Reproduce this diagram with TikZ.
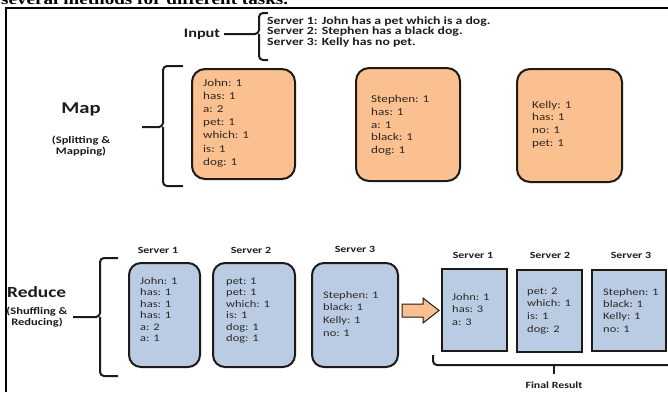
\documentclass[tikz,border=0pt]{standalone}
\usepackage{fontspec}
\setmainfont{Carlito}[FakeStretch=1.25]
\newfontfamily\hdrfont{Liberation Serif}[FakeStretch=1.25]
\definecolor{peach}{RGB}{250,192,144}
\definecolor{lblue}{RGB}{185,204,228}
\definecolor{edgec}{RGB}{30,26,22}
\definecolor{txtc}{RGB}{45,40,36}
\definecolor{lblc}{RGB}{30,28,26}
\newcommand\txtlines[6]{%
  \foreach \t [count=\i] in {#6} \node[#5] (#1-\i) at ({#2},{#3+(\i-1)*#4+3}) {\t};}
\tikzset{
  outl/.style={draw=edgec, line width=2pt},
  mapbox/.style={outl, fill=peach, rounded corners=13pt},
  redbox/.style={outl, fill=lblue, rounded corners=12pt},
  finbox/.style={outl, fill=lblue},
  brace/.style={draw=edgec, line width=2pt, rounded corners=4pt},
  mtxt/.style={font=\fontsize{10.5}{12}\selectfont, anchor=base west, inner sep=0pt, text=txtc},
  rtxt/.style={font=\fontsize{10}{11}\selectfont, anchor=base west, inner sep=0pt, text=txtc},
  srv/.style={font=\bfseries\fontsize{9.5}{11}\selectfont, inner sep=0pt, text=lblc},
  big/.style={font=\bfseries\fontsize{16.5}{18}\selectfont, inner sep=0pt, text=lblc},
  sub/.style={font=\bfseries\fontsize{10}{11}\selectfont, inner sep=0pt, text=lblc, align=center},
  intxt/.style={font=\bfseries\fontsize{11}{12}\selectfont, anchor=base west, inner sep=0pt, text=lblc},
}
\begin{document}
\begin{tikzpicture}[x=1pt, y=-1pt]
\useasboundingbox (0,0) rectangle (668,392);
\clip (0,0) rectangle (668,392);
\fill[white] (0,0) rectangle (668,392);
% header line of the page (cut off at the top edge)
\node[anchor=base west, inner sep=0pt, font=\hdrfont\bfseries\fontsize{15.3}{17}\selectfont] (hdr) at (1,4) {several methods for different tasks.};
% frame
\draw[line width=1.3pt, black] (6,392) -- (6,8) -- (668,8);
% Input
\node[font=\bfseries\fontsize{13}{14}\selectfont, inner sep=0pt, text=lblc] (input) at (202,34) {Input};
\draw[brace] (268,13) -- (259,13) -- (259,34) -- (224,34);
\draw[brace] (259,34) -- (259,60) -- (268,60);
\txtlines{in}{267}{21}{10.6}{intxt}{Server 1: John has a pet which is a dog., Server 2: Stephen has a black dog., Server 3: Kelly has no pet.}
% Map
\node[big] (map) at (81,109) {Map};
\node[sub] (mapsub) at (81,146.5) {(Splitting \&\\Mapping)};
\draw[brace] (183,66) -- (163,66) -- (163,127) -- (142,127);
\draw[brace] (163,127) -- (163,186) -- (183,186);
\path[mapbox] (192,69) rectangle (295,179);
\path[mapbox] (356,68) rectangle (460,181);
\path[mapbox] (517,69) rectangle (622,182);
\txtlines{ma}{203}{83}{13.2}{mtxt}{John: 1, has: 1, a: 2, pet: 1, which: 1, is: 1, dog: 1}
\txtlines{mb}{371}{99.3}{12.85}{mtxt}{Stephen: 1, has: 1, a: 1, black: 1, dog: 1}
\txtlines{mc}{532}{105}{12.8}{mtxt}{Kelly: 1, has: 1, no: 1, pet: 1}
% Reduce
\node[big, font=\bfseries\fontsize{15.5}{17}\selectfont, anchor=west] (reduce) at (7,292) {Reduce};
\node[sub] (redsub) at (37,317) {(Shuffling \&\\Reducing)};
\draw[brace] (118,258) -- (100,258) -- (100,317) -- (73,317);
\draw[brace] (100,317) -- (100,376) -- (118,376);
\node[srv] (s1) at (158,250) {Server 1};
\node[srv] (s2) at (251,250) {Server 2};
\node[srv] (s3) at (355,249) {Server 3};
\path[redbox] (129,263) rectangle (200,367);
\path[redbox] (213,263) rectangle (295,367);
\path[redbox] (312,263) rectangle (398,367);
\txtlines{ra}{140}{281}{11.5}{rtxt}{John: 1, has: 1, has: 1, has: 1, a: 2, a: 1}
\txtlines{rb}{226}{281}{11.5}{rtxt}{pet: 1, pet: 1, which: 1, is: 1, dog: 1, dog: 1}
\txtlines{rc}{323}{295}{12.7}{rtxt}{Stephen: 1, black: 1, Kelly: 1, no: 1}
% arrow
\filldraw[fill=peach, draw=edgec, line width=1pt, line join=miter]
  (402,304) -- (423,304) -- (423,298) -- (439,310.5) -- (423,323) -- (423,317) -- (402,317) -- cycle;
% final
\node[srv] (f1) at (473,255) {Server 1};
\node[srv] (f2) at (550,255) {Server 2};
\node[srv] (f3) at (631,255) {Server 3};
\path[finbox] (442,269) rectangle (507,351);
\path[finbox] (517,270) rectangle (582,352);
\path[finbox] (592,270) rectangle (666,351);
\txtlines{fa}{452}{297}{12.7}{rtxt}{John: 1, has: 3, a: 3}
\txtlines{fb}{527}{291}{12.7}{rtxt}{pet: 2, which: 1, is: 1, dog: 2}
\txtlines{fc}{603}{292}{12.4}{rtxt}{Stephen: 1, black: 1, Kelly: 1, no: 1}
\draw[brace] (433,355) -- (433,365) -- (670,365);
\draw[brace, rounded corners=0pt] (554,365) -- (554,374);
\node[srv] (final) at (554,385) {Final Result};
\end{tikzpicture}
\end{document}
